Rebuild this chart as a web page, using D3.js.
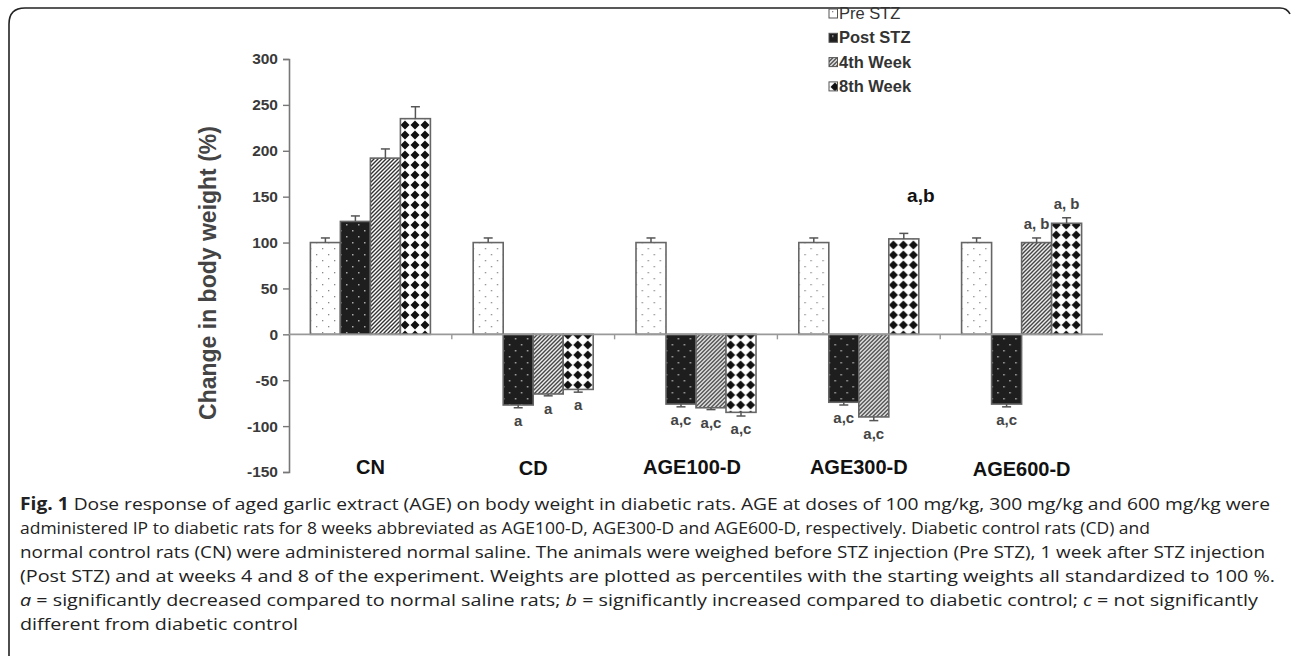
<!DOCTYPE html>
<html><head><meta charset="utf-8">
<script src="https://cdn.jsdelivr.net/npm/d3@7/dist/d3.min.js"></script>
<style>
html,body{margin:0;padding:0;background:#fff;}
svg{display:block;}
</style></head>
<body>
<svg id="c" width="1292" height="658"></svg>
<script>
// ---------- data ----------
const categories = ["CN", "CD", "AGE100-D", "AGE300-D", "AGE600-D"];
const seriesNames = ["Pre STZ", "Post STZ", "4th Week", "8th Week"];
const preSTZ  = [100, 100, 100, 100, 100];
const postSTZ = [123, -77, -76, -74, -76];
const week4   = [192, -65, -80, -90, 100];
const week8   = [235, -60, -85, 104, 121];
const errPre  = [5, 5, 5, 5, 5];
const errPost = [6, 3, 3, 3, 3];
const errW4   = [10, 2, 2, 4, 5];
const errW8   = [13, 3, 4, 6, 6];
const yTicks  = [-150, -100, -50, 0, 50, 100, 150, 200, 250, 300];
// annotations: [categoryIndex, seriesIndex, text]
const annotations = [
  [1, 1, "a"], [1, 2, "a"], [1, 3, "a"],
  [2, 1, "a,c"], [2, 2, "a,c"], [2, 3, "a,c"],
  [3, 1, "a,c"], [3, 2, "a,c"], [3, 3, "a,b"],
  [4, 1, "a,c"], [4, 2, "a, b"], [4, 3, "a, b"]
];
const captionLines = [
  [["b","Fig. 1"],["n"," Dose response of aged garlic extract (AGE) on body weight in diabetic rats. AGE at doses of 100 mg/kg, 300 mg/kg and 600 mg/kg were"]],
  [["n","administered IP to diabetic rats for 8 weeks abbreviated as AGE100-D, AGE300-D and AGE600-D, respectively. Diabetic control rats (CD) and"]],
  [["n","normal control rats (CN) were administered normal saline. The animals were weighed before STZ injection (Pre STZ), 1 week after STZ injection"]],
  [["n","(Post STZ) and at weeks 4 and 8 of the experiment. Weights are plotted as percentiles with the starting weights all standardized to 100 %."]],
  [["i","a"],["n"," = significantly decreased compared to normal saline rats; "],["i","b"],["n"," = significantly increased compared to diabetic control; "],["i","c"],["n"," = not significantly"]],
  [["n","different from diabetic control"]]
];
const captionWidths = [1250, 1130, 1245, 1255, 1238, 278];

const values = [preSTZ, postSTZ, week4, week8];
const errs = [errPre, errPost, errW4, errW8];

// ---------- setup ----------
const svg = d3.select("#c");
const defs = svg.append("defs");

// patterns
const pPre = defs.append("pattern").attr("id","pPre").attr("patternUnits","userSpaceOnUse")
  .attr("width",12).attr("height",12);
pPre.append("rect").attr("width",12).attr("height",12).attr("fill","#fff");
pPre.append("rect").attr("x",3).attr("y",2).attr("width",1.3).attr("height",1.3).attr("fill","#888");
pPre.append("rect").attr("x",9).attr("y",8).attr("width",1.3).attr("height",1.3).attr("fill","#888");

const pPost = defs.append("pattern").attr("id","pPost").attr("patternUnits","userSpaceOnUse")
  .attr("width",12).attr("height",12);
pPost.append("rect").attr("width",12).attr("height",12).attr("fill","#1e1e1e");
pPost.append("rect").attr("x",3).attr("y",2).attr("width",1.5).attr("height",1.5).attr("fill","#aaa");
pPost.append("rect").attr("x",9).attr("y",8).attr("width",1.5).attr("height",1.5).attr("fill","#aaa");

const pW4 = defs.append("pattern").attr("id","pW4").attr("patternUnits","userSpaceOnUse")
  .attr("width",4).attr("height",4);
pW4.append("rect").attr("width",4).attr("height",4).attr("fill","#fff");
pW4.append("path").attr("d","M-1,5 L5,-1 M-1,1 L1,-1 M3,5 L5,3").attr("stroke","#333").attr("stroke-width",1.4);

const pW8 = defs.append("pattern").attr("id","pW8").attr("patternUnits","userSpaceOnUse")
  .attr("width",10).attr("height",10).attr("x",1).attr("y",0);
pW8.append("rect").attr("width",10).attr("height",10).attr("fill","#fff");
pW8.append("path").attr("d","M5,0.5 L9.5,5 L5,9.5 L0.5,5 Z").attr("fill","#111");

const fills = ["url(#pPre)","url(#pPost)","url(#pW4)","url(#pW8)"];

// frame
svg.append("path")
  .attr("d","M9,656 L9,24 Q9,8 25,8 L1280,8 Q1287,8 1290,14")
  .attr("fill","none").attr("stroke","#222").attr("stroke-width",1.6);

// scales
const y = d3.scaleLinear().domain([-150, 300]).range([472, 59]);
const x0 = d3.scaleBand().domain(categories).range([289, 1103]).paddingInner(0).paddingOuter(0);
const x1 = d3.scaleBand().domain(seriesNames).range([0, x0.bandwidth()]).paddingInner(0).paddingOuter(0.713);

const font = "'Liberation Sans', Arial, sans-serif";

// y axis
const yAxis = svg.append("g").attr("transform","translate(289,0)")
  .call(d3.axisLeft(y).tickValues(yTicks).tickSize(6).tickPadding(5).tickFormat(d => String(d)));
yAxis.select(".domain").attr("stroke","#777").attr("stroke-width",1.6);
yAxis.selectAll(".tick line").attr("stroke","#777").attr("stroke-width",1.4);
yAxis.selectAll(".tick text").attr("font-family",font).attr("font-size",15.5)
  .attr("font-weight","bold").attr("fill","#3a3a3a");

// y axis title
svg.append("text").attr("transform","translate(216,273) rotate(-90)")
  .attr("text-anchor","middle").attr("font-family",font).attr("font-size",23)
  .attr("font-weight","bold").attr("fill","#444").text("Change in body weight (%)");

// bars
const groups = svg.append("g").selectAll("g").data(categories).join("g")
  .attr("transform", d => `translate(${x0(d)},0)`);

seriesNames.forEach((s, si) => {
  groups.append("rect")
    .attr("x", x1(s))
    .attr("width", x1.bandwidth())
    .attr("y", (d, ci) => y(Math.max(0, values[si][ci])))
    .attr("height", (d, ci) => Math.abs(y(values[si][ci]) - y(0)))
    .attr("fill", fills[si])
    .attr("stroke", "#666").attr("stroke-width", 1.6);
  // error bars
  groups.each(function(d, ci) {
    const v = values[si][ci], e = errs[si][ci];
    const end = v >= 0 ? v + e : v - e;
    const cx = x1(s) + x1.bandwidth() / 2;
    const g = d3.select(this);
    g.append("line").attr("x1",cx).attr("x2",cx).attr("y1",y(v)).attr("y2",y(end))
      .attr("stroke","#555").attr("stroke-width",1.5);
    g.append("line").attr("x1",cx-4.5).attr("x2",cx+4.5).attr("y1",y(end)).attr("y2",y(end))
      .attr("stroke","#555").attr("stroke-width",1.5);
  });
});

// zero line
svg.append("line").attr("x1",289).attr("x2",1103).attr("y1",y(0)).attr("y2",y(0))
  .attr("stroke","#999").attr("stroke-width",1.6);
// category boundary ticks
svg.append("g").selectAll("line").data(categories.slice(1)).join("line")
  .attr("x1", d => x0(d)).attr("x2", d => x0(d))
  .attr("y1", y(0)).attr("y2", y(0) + 5)
  .attr("stroke","#999").attr("stroke-width",1.4);

// category labels
svg.append("g").selectAll("text").data(categories).join("text")
  .attr("x", d => x0(d) + x0.bandwidth()/2 + (d === "AGE100-D" ? -4 : 0))
  .attr("y", (d,i) => 474 + (i === 4 ? 2 : 0) + (i === 1 ? 1 : 0))
  .attr("text-anchor","middle").attr("font-family",font).attr("font-size",20)
  .attr("font-weight","bold").attr("fill","#111").text(d => d);

// annotations
svg.append("g").selectAll("text").data(annotations).join("text")
  .attr("x", d => x0(categories[d[0]]) + x1(seriesNames[d[1]]) + x1.bandwidth()/2 + (d[2] === "a,b" ? 17 : 0))
  .attr("y", d => {
    const v = values[d[1]][d[0]], e = errs[d[1]][d[0]];
    if (v < 0) return y(v - e) + 18;
    if (d[2] === "a,b") return y(v + e) - 31;
    return y(v + e) - 9;
  })
  .attr("text-anchor","middle").attr("font-family",font)
  .attr("font-size", d => d[2] === "a,b" ? 19 : 15)
  .attr("font-weight","bold")
  .attr("fill", d => d[2] === "a,b" ? "#111" : "#444")
  .text(d => d[2]);

// legend
const leg = svg.append("g").selectAll("g").data(seriesNames).join("g")
  .attr("transform", (d,i) => `translate(829,${9 + i*24.3})`);
leg.append("rect").attr("width",8.5).attr("height",9).attr("fill",(d,i)=>fills[i])
  .attr("stroke","#555").attr("stroke-width",1);
leg.append("text").attr("x",10).attr("y",10).attr("font-family",font).attr("font-size",16.5)
  .attr("font-weight",(d,i)=> i===0 ? "normal" : "bold").attr("fill","#333").text(d=>d);

// caption
const cap = svg.append("g");
captionLines.forEach((line, li) => {
  const t = cap.append("text").attr("x",20).attr("y",510 + li*24)
    .attr("font-family","'Open Sans', 'Noto Sans', sans-serif").attr("font-size",17)
    .attr("fill","#222")
    .attr("textLength", captionWidths[li]).attr("lengthAdjust","spacingAndGlyphs");
  line.forEach(seg => {
    t.append("tspan").text(seg[1])
      .attr("font-weight", seg[0] === "b" ? "bold" : "normal")
      .attr("font-style", seg[0] === "i" ? "italic" : "normal");
  });
});
</script>
</body></html>
